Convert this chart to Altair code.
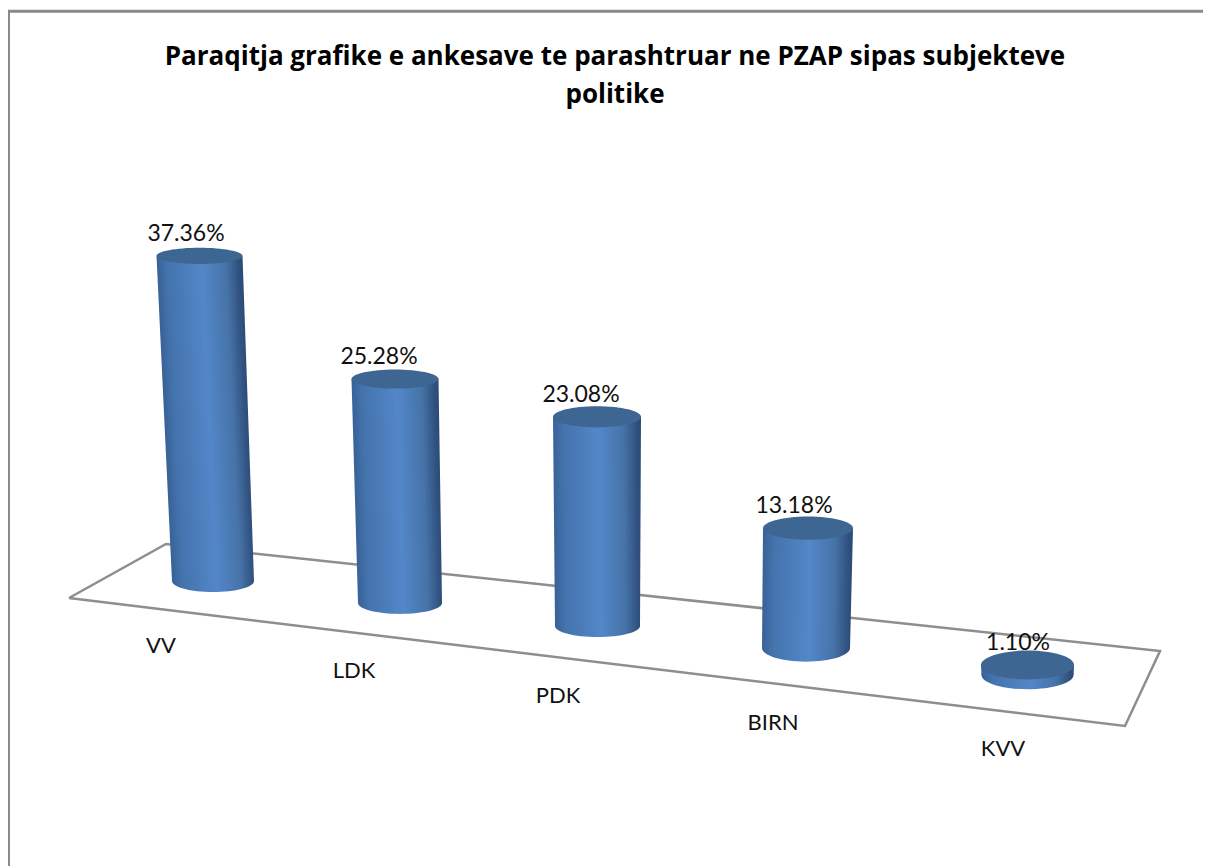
import altair as alt
import pandas as pd

title_lines = ["Paraqitja grafike e ankesave te parashtruar ne PZAP sipas subjekteve", "politike"]

categories = ["VV", "LDK", "PDK", "BIRN", "KVV"]
values = [37.36, 25.28, 23.08, 13.18, 1.10]
value_labels = ["37.36%", "25.28%", "23.08%", "13.18%", "1.10%"]

# Scene geometry of the oblique 3-D view (x in scene units, y in percent units)
floor_level = [1.89, -0.56, -3.11, -5.56, -8.56]
foreshorten = [0.967, 0.985, 1.007, 1.011, 1.011]
top_centre = [199.5, 395.0, 597.0, 808.0, 1027.5]
top_half = [43.0, 43.5, 44.0, 45.0, 46.5]
top_ratio = [0.19, 0.22, 0.24, 0.26, 0.31]
foot_centre = [213.0, 400.0, 597.5, 806.0, 1027.5]
foot_half = [41.0, 42.0, 42.5, 44.0, 46.0]
foot_ratio = [0.27, 0.26, 0.26, 0.31, 0.31]
value_x = [186, 379, 581, 794, 1018]
cat_x = [161, 354, 558, 773, 1003]
cat_y = [-5.33, -8.11, -10.89, -13.89, -16.78]

floor_x = [69, 1125, 1160, 166, 69]
floor_y = [0.0, -14.22, -5.89, 6.0, 0.0]
frame_x = [8.5, 8.5, 1203]
frame_y = [-29.8, 65.2, 65.2]

X_DOMAIN = [8, 1203]
Y_DOMAIN = [-29.78, 65.56]
xs = alt.Scale(domain=X_DOMAIN, nice=False, zero=False)
ys = alt.Scale(domain=Y_DOMAIN, nice=False, zero=False)

def X(f, **k):
    return alt.X(f, scale=xs, axis=None, **k)

def Y(f, **k):
    return alt.Y(f, scale=ys, axis=None, **k)

def stop(o, c):
    return alt.GradientStop(offset=o, color=c)

shade = [stop(0, "#386298"), stop(0.12, "#4473ac"), stop(0.52, "#5387c9"),
         stop(0.8, "#4673a8"), stop(0.95, "#30507e"), stop(1, "#2b4a74")]
lid = "#3e6693"

def gradient(x1, y1, x2, y2):
    return alt.LinearGradient(gradient="linear", x1=x1, y1=y1, x2=x2, y2=y2, stops=shade)

def side_gradients(tl, tr, fl, fr):
    """Shading that runs across the slanted cylinder, for its side and for its foot."""
    lo, hi = min(tl, fl), max(tr, fr)
    w = hi - lo
    ox, rx, ex, qx = (tl - lo) / w, (tr - lo) / w, (fl - lo) / w, (fr - lo) / w
    s = ex - ox
    t = (rx - ox) / (1 + s * s)
    f = ((qx - ox) - s) / (rx - ox)
    return gradient(ox, 0, ox + t, -s * t), gradient(0, 0, 1 / f, 0)

def ellipse(ratio):
    r = round(ratio, 3)
    return f"M-1,0A1,{r},0,1,0,1,0A1,{r},0,1,0,-1,0Z"

frame_df = pd.DataFrame({"x": frame_x, "y": frame_y, "o": range(len(frame_x))})
floor_df = pd.DataFrame({"x": floor_x, "y": floor_y, "o": range(len(floor_x))})

layers = [
    alt.Chart(frame_df).mark_line(color="#8a8a8a", strokeWidth=3, strokeJoin="miter", clip=True).encode(
        x=X("x:Q"), y=Y("y:Q"), order="o:O"),
    alt.Chart(floor_df).mark_line(color="#8e8e8e", strokeWidth=2.5, strokeJoin="miter").encode(
        x=X("x:Q"), y=Y("y:Q"), order="o:O"),
]

rows = []
for i, c in enumerate(categories):
    top = floor_level[i] + values[i] * foreshorten[i]
    rows.append(dict(cat=c, value=values[i], top=top, foot=floor_level[i], label=value_labels[i],
                     vx=value_x[i], cx=cat_x[i], cy=cat_y[i], ly=top + 22 / 9,
                     tc=top_centre[i], fc=foot_centre[i],
                     ts=4 * top_half[i] ** 2, fs=4 * foot_half[i] ** 2))
    tl, tr = top_centre[i] - top_half[i], top_centre[i] + top_half[i]
    fl, fr = foot_centre[i] - foot_half[i], foot_centre[i] + foot_half[i]
    side = pd.DataFrame({"cat": [c, c], "y": [top, floor_level[i]], "left": [tl, fl], "right": [tr, fr]})
    side_fill, foot_fill = side_gradients(tl, tr, fl, fr)
    one = pd.DataFrame([rows[-1]])
    layers += [
        alt.Chart(one).mark_point(filled=True, opacity=1, color=foot_fill, shape=ellipse(foot_ratio[i])).encode(
            x=X("fc:Q"), y=Y("foot:Q"), size=alt.Size("fs:Q", scale=None, legend=None)),
        alt.Chart(side).mark_area(orient="horizontal", color=side_fill, opacity=1).encode(
            x=X("left:Q"), x2="right:Q", y=Y("y:Q")),
        alt.Chart(one).mark_point(filled=True, opacity=1, color=lid, shape=ellipse(top_ratio[i])).encode(
            x=X("tc:Q"), y=Y("top:Q"), size=alt.Size("ts:Q", scale=None, legend=None)),
    ]

df = pd.DataFrame(rows)
layers += [
    alt.Chart(df).mark_text(font="Lato", fontSize=23, color="#111111", baseline="middle").encode(
        x=X("vx:Q"), y=Y("ly:Q"), text="label:N"),
    alt.Chart(df).mark_text(font="Lato", fontSize=22, color="#111111", baseline="middle").encode(
        x=X("cx:Q"), y=Y("cy:Q"), text="cat:N"),
]

chart = alt.layer(*layers).properties(
    width=1195, height=858, padding=0,
    autosize=alt.AutoSizeParams(type="none"),
    title=alt.TitleParams(text=title_lines, font="Open Sans", fontSize=26, fontWeight="bold", color="#000000",
                          anchor="middle", dx=9.5, offset=-100, lineHeight=38),
).configure_view(stroke=None)

chart.save("out.html", embed_options={"renderer": "svg", "actions": False})
